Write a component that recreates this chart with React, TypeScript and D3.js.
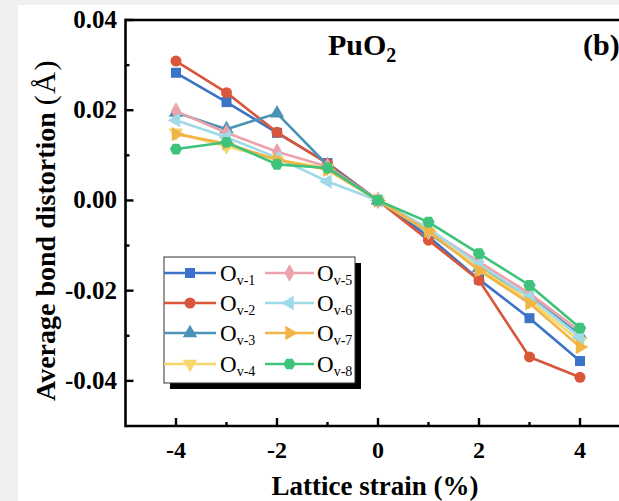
import React from "react";
import * as d3 from "d3";

const strains = [-4, -3, -2, -1, 0, 1, 2, 3, 4];
const ov1 = [0.0283, 0.0218, 0.015, 0.0083, 0, -0.008, -0.0175, -0.0261, -0.0356];
const ov2 = [0.0309, 0.0239, 0.0151, 0.0082, 0, -0.0088, -0.0177, -0.0347, -0.0392];
const ov3 = [0.0195, 0.0158, 0.0193, 0.0078, 0, -0.0072, -0.015, -0.0212, -0.0298];
const ov4 = [0.015, 0.012, 0.009, 0.0072, 0, -0.007, -0.015, -0.0222, -0.0312];
const ov5 = [0.0198, 0.015, 0.0108, 0.0075, 0, -0.0065, -0.0136, -0.0206, -0.029];
const ov6 = [0.0178, 0.014, 0.0095, 0.0042, 0, -0.0062, -0.0142, -0.0214, -0.0303];
const ov7 = [0.0147, 0.0126, 0.009, 0.0068, 0, -0.0068, -0.0155, -0.0228, -0.0325];
const ov8 = [0.0114, 0.0129, 0.008, 0.0072, 0, -0.0048, -0.0118, -0.0188, -0.0283];
const seriesNames = ["v-1", "v-2", "v-3", "v-4", "v-5", "v-6", "v-7", "v-8"];
const seriesColors = ["#3b73c8", "#d9563a", "#4a93b6", "#f6d76c", "#eca2aa", "#a0d9e8", "#f1b446", "#3ec27c"];
const xTicks = [-4, -2, 0, 2, 4];
const xMinor = [-3, -1, 1, 3];
const yTicks = [-0.04, -0.02, 0, 0.02, 0.04];
const yMinor = [-0.03, -0.01, 0.01, 0.03];

const allSeries = [ov1, ov2, ov3, ov4, ov5, ov6, ov7, ov8];

const FONT = "'Liberation Serif', 'Times New Roman', serif";

const hexagon = {
  draw(ctx: any, size: number) {
    const r = Math.sqrt(size / 2.598);
    for (let i = 0; i < 6; i++) {
      const a = (Math.PI / 3) * i;
      const px = r * Math.cos(a);
      const py = r * Math.sin(a);
      if (i === 0) ctx.moveTo(px, py);
      else ctx.lineTo(px, py);
    }
    ctx.closePath();
  },
};

const markerDefs: { type: any; rot: number; size: number }[] = [
  { type: d3.symbolSquare, rot: 0, size: 100 },
  { type: d3.symbolCircle, rot: 0, size: 95 },
  { type: d3.symbolTriangle, rot: 0, size: 90 },
  { type: d3.symbolTriangle, rot: 180, size: 90 },
  { type: d3.symbolDiamond, rot: 0, size: 90 },
  { type: d3.symbolTriangle, rot: -90, size: 90 },
  { type: d3.symbolTriangle, rot: 90, size: 90 },
  { type: hexagon, rot: 0, size: 100 },
];

function Marker({ i, x, y }: { i: number; x: number; y: number }) {
  const m = markerDefs[i];
  const p = d3.symbol().type(m.type).size(m.size)() as string;
  return <path d={p} transform={`translate(${x},${y}) rotate(${m.rot})`} fill={seriesColors[i]} />;
}

export default function App() {
  const W = 619;
  const H = 501;
  const x = d3.scaleLinear().domain([-5, 5]).range([125.5, 630.5]);
  const y = d3.scaleLinear().domain([-0.05, 0.04]).range([426, 20]);
  const line = d3
    .line<number>()
    .x((_, i) => x(strains[i]))
    .y((d) => y(d));

  const left = x(-5);
  const bottom = y(-0.05);
  const top = y(0.04);

  const legendRows = [273, 303, 333, 364];
  const legendCols = [{ x1: 164, x2: 216, t: 220 }, { x1: 265, x2: 314, t: 317 }];

  return (
    <svg
      width={W}
      height={H}
      style={{ position: "fixed", left: 0, top: 0, display: "block" }}
      fontFamily={FONT}
    >
      <rect x={0} y={0} width={W} height={H} fill="#efefef" />
      <rect x={18} y={5} width={W - 18} height={H - 5} fill="#ffffff" />

      {/* series */}
      {allSeries.map((s, i) => (
        <g key={i}>
          <path d={line(s) as string} fill="none" stroke={seriesColors[i]} strokeWidth={2.6} strokeLinejoin="round" />
          {s.map((v, j) => (
            <Marker key={j} i={i} x={x(strains[j])} y={y(v)} />
          ))}
        </g>
      ))}

      {/* frame */}
      <line x1={left} x2={W + 5} y1={top} y2={top} stroke="#000" strokeWidth={2.6} />
      <line x1={left} x2={W + 5} y1={bottom} y2={bottom} stroke="#000" strokeWidth={2.6} />
      <line x1={left} x2={left} y1={top - 1.3} y2={bottom + 1.3} stroke="#000" strokeWidth={2.6} />

      {/* x ticks */}
      {xTicks.map((t) => (
        <g key={`xt${t}`}>
          <line x1={x(t)} x2={x(t)} y1={bottom} y2={bottom - 8} stroke="#000" strokeWidth={2.4} />
          <text x={x(t)} y={458} textAnchor="middle" fontSize={24} fontWeight="bold">
            {t}
          </text>
        </g>
      ))}
      {xMinor.map((t) => (
        <line key={`xm${t}`} x1={x(t)} x2={x(t)} y1={bottom} y2={bottom - 4} stroke="#000" strokeWidth={2.4} />
      ))}

      {/* y ticks */}
      {yTicks.map((t) => (
        <g key={`yt${t}`}>
          <line x1={left} x2={left + 8} y1={y(t)} y2={y(t)} stroke="#000" strokeWidth={2.4} />
          <text x={117} y={y(t) + 8} textAnchor="end" fontSize={25} fontWeight="bold">
            {d3.format(".2f")(t).replace("−", "-")}
          </text>
        </g>
      ))}
      {yMinor.map((t) => (
        <line key={`ym${t}`} x1={left} x2={left + 4} y1={y(t)} y2={y(t)} stroke="#000" strokeWidth={2.4} />
      ))}

      {/* axis titles */}
      <text x={x(0) - 3} y={495} textAnchor="middle" fontSize={27} fontWeight="bold">
        Lattice strain (%)
      </text>
      <text transform={`translate(55,230) rotate(-90)`} textAnchor="middle" fontSize={28} fontWeight="bold">
        Average bond distortion{" "}
        <tspan fontWeight="normal" fontSize={30} letterSpacing={1.5}>
          (Å)
        </tspan>
      </text>

      {/* title */}
      <text x={328} y={55} fontSize={30} fontWeight="bold">
        PuO<tspan fontSize={20} dy={7}>2</tspan>
      </text>
      <text x={583} y={55} fontSize={30} fontWeight="bold">
        (b)
      </text>

      {/* legend */}
      <rect x={170} y={263} width={191} height={126} fill="#000" />
      <rect x={164} y={257} width={191} height={126} fill="#fff" stroke="#333" strokeWidth={1} />
      {seriesNames.map((n, i) => {
        const col = legendCols[Math.floor(i / 4)];
        const ry = legendRows[i % 4];
        return (
          <g key={n}>
            <line x1={col.x1} x2={col.x2} y1={ry} y2={ry} stroke={seriesColors[i]} strokeWidth={2.6} />
            <Marker i={i} x={(col.x1 + col.x2) / 2} y={ry} />
            <text x={col.t} y={ry + 8} fontSize={23}>
              O<tspan fontSize={14} dy={4}>{n}</tspan>
            </text>
          </g>
        );
      })}
    </svg>
  );
}
